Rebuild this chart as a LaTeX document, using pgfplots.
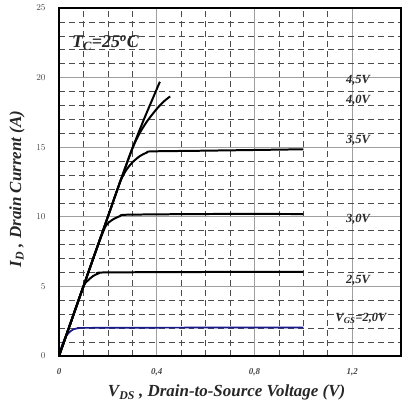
\documentclass[border=0pt]{standalone}
\usepackage{fontspec}
\setmainfont{Liberation Serif}
\usepackage{pgfplots}
\pgfplotsset{compat=1.18}
\definecolor{curveblue}{RGB}{25,25,140}
\begin{document}
\begin{tikzpicture}
\begin{axis}[
  scale only axis, width=342bp, height=348bp,
  xmin=0, xmax=1.4, ymin=0, ymax=25,
  xtick={0,0.4,0.8,1.2}, xticklabels={0,{0,4},{0,8},{1,2}},
  ytick={0,5,...,25},
  minor x tick num=3, minor y tick num=4,
  grid=both,
  major grid style={gray!75, line width=0.7pt},
  minor grid style={black!70, line width=0.55pt, dash pattern=on 6pt off 4pt},
  major tick length=0pt, minor tick length=0pt,
  axis line style={line width=2.2pt},
  ticklabel style={font=\fontsize{9}{10}\selectfont\bfseries\itshape, text=gray!55!black},
  xticklabel style={yshift=-9bp},
  yticklabel style={xshift=-10bp},
  xlabel={V\textsubscript{DS} , Drain-to-Source Voltage (V)},
  ylabel={I\textsubscript{D} , Drain Current (A)},
  label style={font=\fontsize{17}{19}\selectfont\bfseries\itshape, text=black!85},
  xlabel style={at={(axis description cs:0.49,-0.106)}, anchor=center},
  ylabel style={at={(axis description cs:-0.123,0.48)}, anchor=center},
  clip=false,
  every axis plot/.append style={line width=2pt, no marks, smooth, tension=0.4},
]
% VGS = 2.0 V
\addplot[curveblue, line width=1.7pt] coordinates {(0,0) (0.01,0.65) (0.02,1.1) (0.03,1.45) (0.045,1.75) (0.06,1.92) (0.08,2.0) (0.1,2.02) (0.5,2.04) (1.0,2.05)};
% VGS = 2.5 V
\addplot[black] coordinates {(0,0) (0.05,2.5) (0.1,5.0) (0.12,5.45) (0.14,5.75) (0.16,5.92) (0.18,6.0) (0.5,6.03) (1.0,6.05)};
% VGS = 3.0 V
\addplot[black] coordinates {(0,0) (0.05,2.5) (0.1,5.0) (0.15,7.5) (0.19,9.3) (0.22,9.8) (0.25,10.05) (0.28,10.15) (0.6,10.2) (1.0,10.2)};
% VGS = 3.5 V
\addplot[black] coordinates {(0,0) (0.05,2.5) (0.1,5.0) (0.15,7.5) (0.2,10.0) (0.25,12.5) (0.275,13.35) (0.3,13.9) (0.33,14.35) (0.36,14.62) (0.38,14.7) (0.6,14.75) (1.0,14.85)};
% VGS = 4.0 V
\addplot[black] coordinates {(0,0) (0.05,2.5) (0.1,5.0) (0.15,7.5) (0.2,10.0) (0.25,12.5) (0.3,14.9) (0.33,16.0) (0.36,16.85) (0.4,17.75) (0.43,18.3) (0.455,18.65)};
% VGS = 4.5 V
\addplot[black] coordinates {(0,0) (0.05,2.5) (0.1,5.0) (0.15,7.5) (0.2,10.0) (0.25,12.5) (0.3,14.9) (0.35,17.1) (0.413,19.7)};

\begin{scope}[every node/.style={font=\fontsize{12.5}{14}\selectfont\bfseries\itshape, text=black!85}]
\node at (axis cs:1.224,19.8) {4,5V};
\node at (axis cs:1.224,18.4) {4,0V};
\node at (axis cs:1.224,15.5) {3,5V};
\node at (axis cs:1.224,9.8) {3,0V};
\node at (axis cs:1.224,5.4) {2,5V};
\node at (axis cs:1.236,2.7) {V\textsubscript{GS}=2,0V};
\end{scope}
\node[font=\fontsize{18}{20}\selectfont\bfseries\itshape, text=black!85] at (axis cs:0.19,22.5) {T\textsubscript{C}=25\textsuperscript{o}C};
\end{axis}
\pgfresetboundingbox
\path (-59bp,-56bp) rectangle (344bp,356bp);
\end{tikzpicture}
\end{document}
